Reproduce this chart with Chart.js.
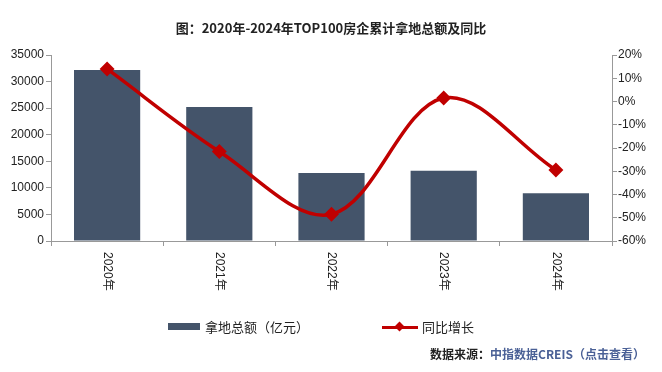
<!DOCTYPE html>
<html>
<head>
<meta charset="utf-8">
<script src="https://cdn.jsdelivr.net/npm/chart.js@4.4.1/dist/chart.umd.min.js"></script>
<style>
  body { margin: 0; background: #fff; }
  #wrap { position: relative; width: 662px; height: 372px; font-family: "Noto Sans CJK SC", "Liberation Sans", sans-serif; }
  #title { position: absolute; left: 0; width: 662px; top: 18px; text-align: center; font-size: 13px; font-weight: bold; color: #222; }
  .lg { position: absolute; top: 317px; font-size: 13px; color: #222; }
  .sw-bar { position: absolute; left: 168px; top: 323px; width: 32px; height: 7px; background: #44546A; }
  .sw-line { position: absolute; left: 382px; top: 326px; width: 36px; height: 3px; background: #C00000; }
  .sw-dot { position: absolute; left: 396px; top: 323px; width: 7px; height: 7px; background: #C00000; transform: rotate(45deg); }
  #source { position: absolute; left: 430px; top: 345px; font-size: 12px; color: #222; font-weight: bold; white-space: nowrap; }
  #source span { color: #4A6096; }
</style>
</head>
<body>
<div id="wrap">
  <canvas id="c" width="662" height="372"></canvas>
  <div id="title">图：2020年-2024年TOP100房企累计拿地总额及同比</div>
  <div class="sw-bar"></div>
  <div class="lg" style="left:205px">拿地总额（亿元）</div>
  <div class="sw-line"></div><div class="sw-dot"></div>
  <div class="lg" style="left:422px">同比增长</div>
  <div id="source">数据来源：<span>中指数据CREIS（点击查看）</span></div>
</div>
<script>
// data
const years = ['2020年', '2021年', '2022年', '2023年', '2024年'];
const landAmount = [32200, 25200, 12800, 13200, 9000];   // 亿元
const yoyGrowth = [14.0, -21.5, -48.5, 1.5, -29.5];        // %
const leftTicks = [0, 5000, 10000, 15000, 20000, 25000, 30000, 35000];
const rightTicks = [-60, -50, -40, -30, -20, -10, 0, 10, 20];

const axisGrey = '#999';
const tickFont = { family: 'Liberation Sans', size: 12 };

// draw x labels rotated clockwise (top to bottom)
const verticalLabels = {
    id: 'verticalLabels',
    afterDraw(chart) {
        const ctx = chart.ctx;
        const x = chart.scales.x;
        ctx.save();
        ctx.font = '12px "Liberation Sans", "Noto Sans CJK SC"';
        ctx.fillStyle = '#222';
        ctx.textAlign = 'left';
        ctx.textBaseline = 'middle';
        years.forEach((lbl, i) => {
            ctx.save();
            ctx.translate(x.getPixelForValue(i), chart.chartArea.bottom + 11);
            ctx.rotate(Math.PI / 2);
            ctx.fillText(lbl, 0, 0);
            ctx.restore();
        });
        ctx.restore();
    }
};

new Chart(document.getElementById('c'), {
    data: {
        labels: years,
        datasets: [{
            type: 'line',
            label: '同比增长',
            data: yoyGrowth,
            yAxisID: 'y1',
            borderColor: '#C00000',
            backgroundColor: '#C00000',
            borderWidth: 3.5,
            tension: 0.35,
            pointStyle: 'rectRot',
            pointRadius: 5,
            pointHoverRadius: 5,
            order: 0
        }, {
            type: 'bar',
            label: '拿地总额（亿元）',
            data: landAmount,
            yAxisID: 'y',
            backgroundColor: '#44546A',
            barPercentage: 0.59,
            categoryPercentage: 1.0,
            order: 1
        }]
    },
    options: {
        responsive: false,
        animation: false,
        layout: { padding: { top: 55, left: 0, right: 0, bottom: 0 } },
        plugins: { legend: { display: false }, tooltip: { enabled: false } },
        scales: {
            x: {
                afterFit: s => { s.height = 131; },
                border: { color: axisGrey },
                grid: { offset: true, drawOnChartArea: false, drawTicks: true, tickLength: 5, color: axisGrey },
                ticks: { display: false }
            },
            y: {
                position: 'left',
                min: 0, max: 35000,
                afterFit: s => { s.width = 51; },
                afterBuildTicks: s => { s.ticks = leftTicks.map(v => ({ value: v })); },
                border: { color: axisGrey },
                grid: { drawOnChartArea: false, tickLength: 5, color: axisGrey },
                ticks: { font: tickFont, color: '#222', padding: 2, callback: v => String(v) }
            },
            y1: {
                position: 'right',
                min: -60, max: 20,
                afterFit: s => { s.width = 50; },
                afterBuildTicks: s => { s.ticks = rightTicks.map(v => ({ value: v })); },
                border: { color: axisGrey },
                grid: { drawOnChartArea: false, tickLength: 5, color: axisGrey },
                ticks: { font: tickFont, color: '#222', padding: 1, callback: v => v + '%' }
            }
        }
    },
    plugins: [verticalLabels]
});
</script>
</body>
</html>
